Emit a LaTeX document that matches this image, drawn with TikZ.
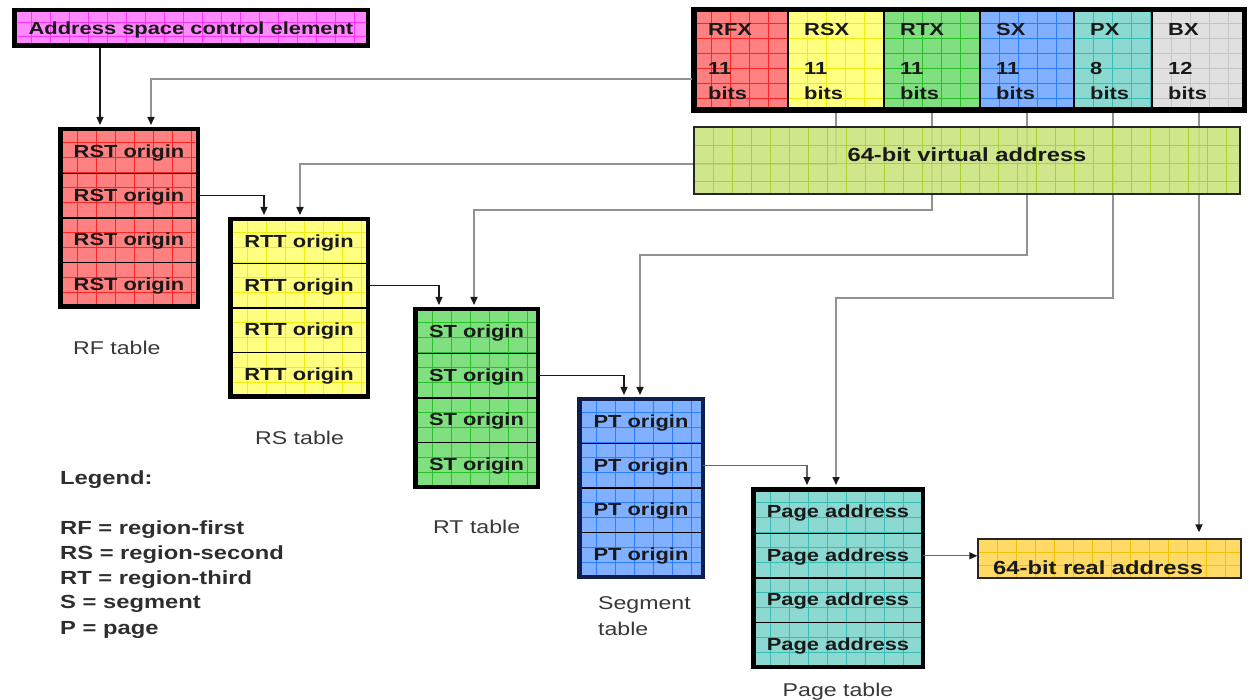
\documentclass[tikz,border=0pt]{standalone}
\usepackage{fontspec}
\setmainfont{Liberation Sans}[FakeStretch=1.25]
\usetikzlibrary{arrows.meta}
\definecolor{mgF}{HTML}{FF88FF}\definecolor{mgG}{HTML}{FF33FF}
\definecolor{rdF}{HTML}{FF8080}\definecolor{rdG}{HTML}{FF2424}
\definecolor{ylF}{HTML}{FFFF80}\definecolor{ylG}{HTML}{EEEE10}
\definecolor{gnF}{HTML}{80E080}\definecolor{gnG}{HTML}{28C028}
\definecolor{blF}{HTML}{80B0FF}\definecolor{blG}{HTML}{2A7FFF}
\definecolor{tlF}{HTML}{8CD9D2}\definecolor{tlG}{HTML}{38BDB4}
\definecolor{gyF}{HTML}{E0E0E0}\definecolor{gyG}{HTML}{C4C4C4}
\definecolor{vaF}{HTML}{C8E27A}\definecolor{vaG}{HTML}{A6D024}
\definecolor{raF}{HTML}{FFDA66}\definecolor{raG}{HTML}{F2C200}
\definecolor{navy}{HTML}{0F1E4A}
\definecolor{lnG}{HTML}{929292}

\newcommand\gridrect[8]{%
  \begin{scope}
    \fill[#5] (#1,#2) rectangle (#3,#4);
    \clip (#1,#2) rectangle (#3,#4);
    \pgfmathtruncatemacro\gnx{((#3)-(#1))/(#7)}
    \pgfmathtruncatemacro\gny{((#4)-(#2))/(#8)}
    \foreach \k in {1,...,\gnx} \draw[#6, line width=0.9pt] ({#1+\k*#7},#2) -- ({#1+\k*#7},#4);
    \foreach \k in {1,...,\gny} \draw[#6, line width=0.9pt] (#1,{#2+\k*#8}) -- (#3,{#2+\k*#8});
  \end{scope}}

% name, x-left, y-top, width, fill, grid, text, frame colour
\newcommand\mktable[8]{%
  \gridrect{#2}{#3}{#2+#4}{#3+182}{#5}{#6}{19}{15}
  \foreach \i in {1,...,4}
    \node[rowbox, minimum width={#4pt-4.5pt}] (#1\i) at ({#2+#4/2},{#3+2.25+44.375*(\i-0.5)}) {#7};
  \node[tframe, draw=#8, minimum width={#4pt-4.5pt}, minimum height=177.5pt] (#1) at ({#2+#4/2},{#3+91}) {};
}

% name, x-left, x-right, fill, grid, label, number
\newcommand\field[7]{%
  \gridrect{#2}{8}{#3}{112}{#4}{#5}{19}{15}
  \node[thinbox, draw=black, minimum width={#3pt-#2pt}, minimum height=104pt] (#1) at ({(#2+#3)/2},60) {};
  \node[btxt, anchor=base west] (#1a) at (#2+16,36) {#6};
  \node[btxt, anchor=base west] (#1b) at (#2+16,75) {#7};
  \node[btxt, anchor=base west] (#1c) at (#2+16,100) {bits};
}

\begin{document}
\begin{tikzpicture}[x=1pt,y=-1pt,
  rowbox/.style={draw=black, line width=1.3pt, minimum height=44.375pt, inner sep=0pt,
    text height=12.6pt, text depth=1pt, font=\fontsize{17.5}{20}\selectfont\bfseries, text=black!90},
  tframe/.style={draw=black, line width=4.5pt, inner sep=0pt},
  thinbox/.style={draw=black!85, line width=1.3pt, inner sep=0pt},
  btxt/.style={font=\fontsize{17.5}{20}\selectfont\bfseries, text=black!90, inner sep=0pt},
  bigtxt/.style={font=\fontsize{19}{22}\selectfont\bfseries, text=black!90, inner sep=0pt},
  lab/.style={font=\fontsize{18.5}{22}\selectfont, text=black!78, inner sep=0pt, anchor=base west},
  leg/.style={font=\fontsize{19}{22}\selectfont\bfseries, text=black!82, inner sep=0pt, anchor=base west},
  tip/.style={-{Triangle[length=8pt,width=7pt,color=black!90]}},
  link/.style={tip, draw=black!90, line width=1.1pt},
  glink/.style={tip, draw=black!60, line width=1.3pt},
  flink/.style={tip, draw=lnG, line width=1.6pt},
]
\useasboundingbox (0,0) rectangle (1248,700);

% Address space control element
\gridrect{12}{8}{370}{48}{mgF}{mgG}{19}{14}
\node[tframe, minimum width=353.5pt, minimum height=35.5pt] (asce) at (191,28) {};
\node[btxt, anchor=base] (ascet) at (191,35) {Address space control element};

% virtual address fields
\field{fRFX}{692}{788}{rdF}{rdG}{RFX}{11}
\field{fRSX}{788}{884}{ylF}{ylG}{RSX}{11}
\field{fRTX}{884}{980}{gnF}{gnG}{RTX}{11}
\field{fSX}{980}{1074}{blF}{blG}{SX}{11}
\field{fPX}{1074}{1152}{tlF}{tlG}{PX}{8}
\field{fBX}{1152}{1246}{gyF}{gyG}{BX}{12}
\node[tframe, minimum width=549.5pt, minimum height=99.5pt] (vaf) at (969,60) {};

% tables
\mktable{rf}{58}{127}{142}{rdF}{rdG}{RST origin}{black}
\mktable{rs}{228}{217}{142}{ylF}{ylG}{RTT origin}{black}
\mktable{rt}{413}{307}{127}{gnF}{gnG}{ST origin}{black}
\mktable{pt}{577}{397}{128}{blF}{blG}{PT origin}{navy}
\mktable{pg}{751}{487}{174}{tlF}{tlG}{Page address}{black}

% real address
\gridrect{978}{539}{1241}{578}{raF}{raG}{19}{13}
\node[thinbox, minimum width=263pt, minimum height=39pt] (ra) at (1109.5,558.5) {};
\node[bigtxt, anchor=base west] (rat) at (993,574) {64-bit real address};

% entry points and bends
\coordinate (rfA) at (100,127);
\coordinate (c1) at (151,79);
\coordinate (c2) at (300,164);
\coordinate (c3) at (474,210);
\coordinate (c4) at (640,255);
\coordinate (c5) at (836,298);
\coordinate (rsA) at (264,217);
\coordinate (rtA) at (439,307);
\coordinate (ptA) at (624,397);
\coordinate (pgA) at (807,487);

% index lines from the fields
\draw[flink, shorten >=2pt] (vaf.west |- c1) -- (c1) -- (c1 |- rf.north);
\draw[flink, shorten >=2pt] (fRSX.south) |- (c2) -- (c2 |- rs.north);
\draw[flink, shorten >=2pt] (fRTX.south) |- (c3) -- (c3 |- rt.north);
\draw[flink, shorten >=2pt] (fSX.south) |- (c4) -- (c4 |- pt.north);
\draw[flink, shorten >=2pt] (fPX.south) |- (c5) -- (c5 |- pg.north);
\draw[flink, shorten >=6pt] (fBX.south) -- (fBX.south |- ra.north);

% 64-bit virtual address (over the lines)
\gridrect{694}{127}{1240}{194}{vaF, fill opacity=0.88}{vaG, opacity=0.88}{19}{18}
\node[thinbox, minimum width=546pt, minimum height=67pt] (va) at (967,160.5) {};
\node[bigtxt, anchor=base] (vat) at (967,162) {64-bit virtual address};

% table to table
\draw[link, shorten >=2pt] (asce.south -| rfA) -- (rfA |- rf.north);
\draw[link, shorten >=2pt] (rf2.east) -| (rsA |- rs.north);
\draw[link, shorten >=2pt] (rs2.east) -| (rtA |- rt.north);
\draw[link, shorten >=2pt] (rt2.east) -| (ptA |- pt.north);
\draw[glink, shorten >=2pt] (pt2.east) -| (pgA |- pg.north);
\draw[glink] (pg2.east) -- (pg2.east -| ra.west);

% table labels
\node[lab] (lrf) at (73,355) {RF table};
\node[lab] (lrs) at (255,445) {RS table};
\node[lab] (lrt) at (433,533) {RT table};
\node[lab] (lst1) at (598,609) {Segment};
\node[lab] (lst2) at (598,635) {table};
\node[lab, anchor=base] (lpg) at (838,696) {Page table};

% legend
\node[leg] (lg0) at (60,484) {Legend:};
\node[leg] (lg1) at (60,534) {RF = region-first};
\node[leg] (lg2) at (60,559) {RS = region-second};
\node[leg] (lg3) at (60,584) {RT = region-third};
\node[leg] (lg4) at (60,608) {S = segment};
\node[leg] (lg5) at (60,634) {P = page};
\end{tikzpicture}
\end{document}
